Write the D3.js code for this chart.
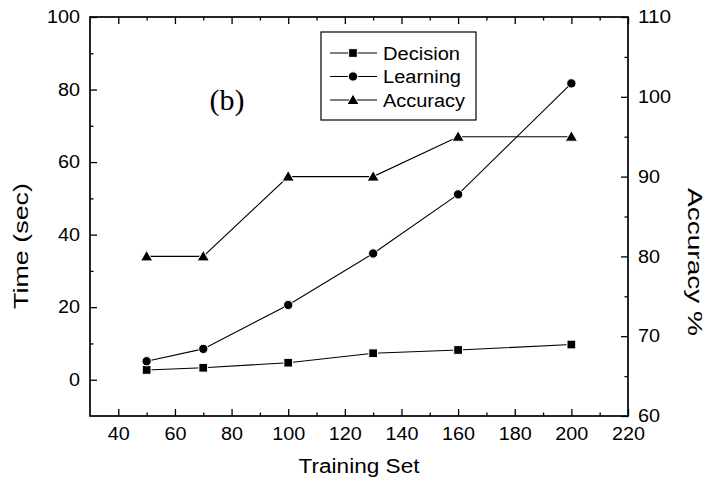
<!DOCTYPE html>
<html>
<head>
<meta charset="utf-8">
<script src="https://cdn.jsdelivr.net/npm/d3@7/dist/d3.min.js"></script>
<style>
  html, body { margin: 0; padding: 0; background: #fff; }
  svg text { font-family: "Liberation Sans", Arial, Helvetica, sans-serif; fill: #000; }
</style>
</head>
<body>
<svg id="chart" width="706" height="487"></svg>
<script>
// Training set sizes and measured series
const trainingSet = [50, 70, 100, 130, 160, 200];
const decisionTime = [2.7, 3.3, 4.7, 7.3, 8.2, 9.7];
const learningTime = [5.1, 8.5, 20.6, 34.8, 51.1, 81.7];
const accuracy = [80, 80, 90, 90, 95, 95];

const xTicks = [40, 60, 80, 100, 120, 140, 160, 180, 200, 220];
const timeTicks = [0, 20, 40, 60, 80, 100];
const accTicks = [60, 70, 80, 90, 100, 110];
const legendLabels = ["Decision", "Learning", "Accuracy"];

const svg = d3.select("#chart");
const plotL = 90, plotR = 628, plotT = 17, plotB = 416;
const FS = 18;
const digitW = 11; // wide-set digits

const x = d3.scaleLinear().domain([30, 220]).range([plotL, plotR]);
const yT = d3.scaleLinear().domain([-10, 100]).range([plotB, plotT]);
const yA = d3.scaleLinear().domain([60, 110]).range([plotB, plotT]);

const axisColor = "#000";
const majorLen = 7, minorLen = 3.5;

// wide-set lettering: fit a string to a given length
function widen(sel, len) {
  sel.attr("textLength", len).attr("lengthAdjust", "spacingAndGlyphs");
}

function styleAxis(g) {
  g.select(".domain").remove();
  g.selectAll(".tick line").attr("stroke", axisColor).attr("stroke-width", 1.3);
  g.selectAll(".tick text")
    .attr("font-size", FS)
    .attr("font-family", "Liberation Sans, Arial, sans-serif")
    .each(function () {
      const t = d3.select(this);
      const s = t.text();
      if (s) widen(t, s.length * digitW);
    });
}

// minor tick positions
const xMinor = d3.range(50, 220, 20);
const tMinor = d3.range(10, 100, 20);
const aMinor = d3.range(65, 110, 10);

// bottom axis
svg.append("g").attr("transform", `translate(0,${plotB})`)
  .call(d3.axisBottom(x).tickValues(xTicks).tickSize(-majorLen).tickPadding(11).tickFormat(d3.format("d")))
  .call(styleAxis);
svg.append("g").attr("transform", `translate(0,${plotB})`)
  .call(d3.axisBottom(x).tickValues(xMinor).tickSize(-minorLen).tickFormat(""))
  .call(styleAxis);
// top axis (mirror)
svg.append("g").attr("transform", `translate(0,${plotT})`)
  .call(d3.axisTop(x).tickValues(xTicks).tickSize(-majorLen).tickFormat(""))
  .call(styleAxis);
svg.append("g").attr("transform", `translate(0,${plotT})`)
  .call(d3.axisTop(x).tickValues(xMinor).tickSize(-minorLen).tickFormat(""))
  .call(styleAxis);
// left axis: time
svg.append("g").attr("transform", `translate(${plotL},0)`)
  .call(d3.axisLeft(yT).tickValues(timeTicks).tickSize(-majorLen).tickPadding(10).tickFormat(d3.format("d")))
  .call(styleAxis);
svg.append("g").attr("transform", `translate(${plotL},0)`)
  .call(d3.axisLeft(yT).tickValues(tMinor).tickSize(-minorLen).tickFormat(""))
  .call(styleAxis);
// right axis: accuracy
svg.append("g").attr("transform", `translate(${plotR},0)`)
  .call(d3.axisRight(yA).tickValues(accTicks).tickSize(-majorLen).tickPadding(10).tickFormat(d3.format("d")))
  .call(styleAxis);
svg.append("g").attr("transform", `translate(${plotR},0)`)
  .call(d3.axisRight(yA).tickValues(aMinor).tickSize(-minorLen).tickFormat(""))
  .call(styleAxis);

// frame
svg.append("rect")
  .attr("x", plotL).attr("y", plotT)
  .attr("width", plotR - plotL).attr("height", plotB - plotT)
  .attr("fill", "none").attr("stroke", axisColor).attr("stroke-width", 1.7);

// axis titles
svg.append("text").attr("x", 359).attr("y", 473)
  .attr("text-anchor", "middle").attr("font-size", 19.5)
  .call(widen, 121).text("Training Set");
svg.append("text").attr("transform", "translate(28,246) rotate(-90)")
  .attr("text-anchor", "middle").attr("font-size", 21)
  .call(widen, 126).text("Time (sec)");
svg.append("text").attr("transform", "translate(688,262) rotate(90)")
  .attr("text-anchor", "middle").attr("font-size", 20)
  .call(widen, 148).text("Accuracy %");

// panel tag
svg.append("text").attr("x", 227).attr("y", 110)
  .attr("text-anchor", "middle").attr("font-size", 30)
  .style("font-family", "'Liberation Serif', 'Times New Roman', serif").text("(b)");

// markers
const sym = {
  square: d3.symbol().type(d3.symbolSquare).size(76),
  circle: d3.symbol().type(d3.symbolCircle).size(68),
  triangle: d3.symbol().type(d3.symbolTriangle).size(64)
};

const series = [
  { vals: decisionTime, y: yT, shape: "square" },
  { vals: learningTime, y: yT, shape: "circle" },
  { vals: accuracy, y: yA, shape: "triangle" }
];

series.forEach(s => {
  const pts = trainingSet.map((t, i) => [x(t), s.y(s.vals[i])]);
  svg.append("path")
    .attr("d", d3.line()(pts))
    .attr("fill", "none").attr("stroke", "#000").attr("stroke-width", 1.1);
  svg.append("g").selectAll("path").data(pts).join("path")
    .attr("transform", d => `translate(${d[0]},${d[1] + (s.shape === "triangle" ? 1 : 0)})`)
    .attr("d", sym[s.shape])
    .attr("fill", "#000").attr("stroke", "#fff").attr("stroke-width", 1);
});

// legend
const legendW = [77, 78, 82];
const lg = svg.append("g");
lg.append("rect").attr("x", 321).attr("y", 32).attr("width", 155).attr("height", 88)
  .attr("fill", "#fff").attr("stroke", "#000").attr("stroke-width", 1.2);
legendLabels.forEach((name, i) => {
  const cy = 53 + i * 23.5;
  const shape = series[i].shape;
  lg.append("line").attr("x1", 330).attr("x2", 377).attr("y1", cy).attr("y2", cy)
    .attr("stroke", "#000").attr("stroke-width", 1.2);
  lg.append("path").attr("transform", `translate(353,${cy + (shape === "triangle" ? 1 : 0)})`)
    .attr("d", sym[shape]).attr("fill", "#000").attr("stroke", "#fff").attr("stroke-width", 1);
  lg.append("text").attr("x", 383).attr("y", cy + 6.5).attr("font-size", FS)
    .call(widen, legendW[i]).text(name);
});
</script>
</body>
</html>
